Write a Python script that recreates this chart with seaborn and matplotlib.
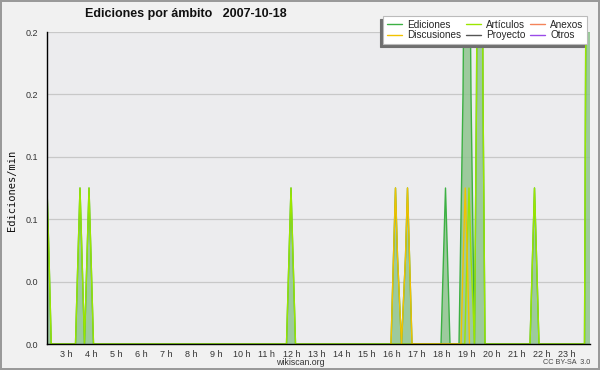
import matplotlib
matplotlib.use("Agg")
import matplotlib.pyplot as plt
from matplotlib.ticker import MultipleLocator, FixedLocator
from matplotlib.lines import Line2D
import seaborn as sns
import pandas as pd

# ---- data (hours of the day, edits per minute) ----
ed_hours = [2.22, 2.30, 2.39,
            3.36, 3.46, 3.54, 3.62, 3.72, 3.82, 3.90, 3.98, 4.08,
            11.80, 11.90, 11.98, 12.06, 12.16,
            15.98, 16.08, 16.16, 16.24, 16.40, 16.56, 16.64, 16.72, 16.82,
            17.98, 18.08, 18.16, 18.24, 18.34,
            18.70, 18.86, 19.02, 19.18, 19.32, 19.40, 19.54, 19.66, 19.74,
            21.54, 21.64, 21.72, 21.80, 21.90,
            23.72, 23.78, 23.86, 23.94]
ed_values = [0.125, 0.07, 0.0,
             0.0, 0.07, 0.125, 0.07, 0.0, 0.07, 0.125, 0.07, 0.0,
             0.0, 0.07, 0.125, 0.07, 0.0,
             0.0, 0.07, 0.125, 0.07, 0.0, 0.07, 0.125, 0.07, 0.0,
             0.0, 0.07, 0.125, 0.07, 0.0,
             0.0, 0.2, 0.6, 0.2, 0.0, 0.2, 0.75, 0.2, 0.0,
             0.0, 0.07, 0.125, 0.07, 0.0,
             0.0, 0.3, 0.8, 0.8]

art_hours = [2.22, 2.30, 2.39,
             3.36, 3.46, 3.54, 3.62, 3.72, 3.82, 3.90, 3.98, 4.08,
             11.80, 11.90, 11.98, 12.06, 12.16,
             18.93, 19.02, 19.10, 19.18, 19.32, 19.40, 19.54, 19.66, 19.74,
             21.54, 21.64, 21.72, 21.80, 21.90,
             23.72, 23.78, 23.86, 23.94]
art_values = [0.125, 0.07, 0.0,
              0.0, 0.07, 0.125, 0.07, 0.0, 0.07, 0.125, 0.07, 0.0,
              0.0, 0.07, 0.125, 0.07, 0.0,
              0.0, 0.07, 0.125, 0.07, 0.0, 0.2, 0.75, 0.2, 0.0,
              0.0, 0.07, 0.125, 0.07, 0.0,
              0.0, 0.3, 0.8, 0.8]

disc_hours = [15.98, 16.08, 16.16, 16.24, 16.40, 16.56, 16.64, 16.72, 16.82,
              18.78, 18.87, 18.95, 19.03, 19.12]
disc_values = [0.0, 0.07, 0.125, 0.07, 0.0, 0.07, 0.125, 0.07, 0.0,
               0.0, 0.07, 0.125, 0.07, 0.0]

zero_hours = [2.22, 23.94]
proy_values = [0.0, 0.0]
anexos_values = [0.0, 0.0]
otros_values = [0.0, 0.0]

hour_ticks = list(range(3, 24))
hour_labels = [f"{h} h" for h in hour_ticks]
y_ticks = [0.0, 0.05, 0.10, 0.15, 0.20, 0.25]
y_labels = ["0.0", "0.0", "0.1", "0.1", "0.2", "0.2"]

# ---- styling ----
sns.set_style("white")
plt.rcParams["font.family"] = ["Liberation Sans", "DejaVu Sans"]

fig = plt.figure(figsize=(6.0, 3.7), dpi=100)
fig.patch.set_facecolor("#f1f1f1")
fig.patch.set_edgecolor("#9a9a9a")
fig.patch.set_linewidth(1.5)
ax = fig.add_axes([47/600, 26/370, 543/600, 312/370])
ax.set_facecolor("#ececee")

c_ed = "#3cb043"
c_art = "#9be600"
c_disc = "#f2c200"
c_proy = "#555555"
c_anex = "#f4845a"
c_otros = "#9a4be8"

df_ed = pd.DataFrame({"h": ed_hours, "v": ed_values})
ax.fill_between(df_ed["h"], 0, df_ed["v"], color="#8fc58f", alpha=0.85,
                linewidth=0, zorder=1)

sns.lineplot(data=df_ed, x="h", y="v", ax=ax, color=c_ed, lw=1.0,
             zorder=2, sort=False)
sns.lineplot(x=zero_hours, y=proy_values, ax=ax, color=c_proy, lw=0.8, zorder=0.5)
sns.lineplot(x=zero_hours, y=anexos_values, ax=ax, color=c_anex, lw=0.8, zorder=0.5)
sns.lineplot(x=zero_hours, y=otros_values, ax=ax, color=c_otros, lw=0.8, zorder=0.5)
sns.lineplot(x=art_hours, y=art_values, ax=ax, color=c_art, lw=1.0,
             zorder=3, sort=False)
sns.lineplot(x=disc_hours, y=disc_values, ax=ax, color=c_disc, lw=1.0,
             zorder=4, sort=False)

ax.set_xlim(2.22, 23.94)
ax.set_ylim(0, 0.25)

ax.xaxis.set_major_locator(FixedLocator(hour_ticks))
ax.set_xticklabels(hour_labels)
ax.xaxis.set_minor_locator(MultipleLocator(1/6))
ax.yaxis.set_major_locator(FixedLocator(y_ticks))
ax.set_yticklabels(y_labels)
ax.yaxis.set_minor_locator(MultipleLocator(0.0125))

ax.tick_params(axis="both", which="both", direction="out", color="black",
               width=1.0, labelsize=6.5, labelcolor="#333333", pad=1.5)
ax.tick_params(axis="x", which="major", length=4, pad=0)
ax.tick_params(axis="x", which="minor", length=4)
ax.tick_params(axis="y", which="major", length=5)
ax.tick_params(axis="y", which="minor", length=4)

ax.grid(axis="y", which="major", color="#c8c8c8", lw=0.9)
ax.grid(axis="x", visible=False)
for s in ["top", "right"]:
    ax.spines[s].set_visible(False)
for s in ["left", "bottom"]:
    ax.spines[s].set_color("black")
    ax.spines[s].set_linewidth(1.0)
    ax.spines[s].set_zorder(5)
ax.set_xlabel("")
ax.set_ylabel("")

# legend
handles = [Line2D([], [], color=c_ed, lw=1), Line2D([], [], color=c_disc, lw=1),
           Line2D([], [], color=c_art, lw=1), Line2D([], [], color=c_proy, lw=1),
           Line2D([], [], color=c_anex, lw=1), Line2D([], [], color=c_otros, lw=1)]
labels = ["Ediciones", "Discusiones", "Artículos", "Proyecto", "Anexos", "Otros"]
leg = fig.legend(handles, labels, loc="upper right",
                 bbox_to_anchor=(592/600, 1 - 11/370), ncol=3,
                 fontsize=7.2, frameon=True, fancybox=False,
                 handlelength=1.5, handletextpad=0.5, columnspacing=0.5,
                 labelspacing=0.05, borderpad=0.35,
                 shadow={"ox": -2.5, "oy": -2.5, "facecolor": "#6f6f6f",
                         "edgecolor": "#6f6f6f", "alpha": 1})
leg.get_frame().set_facecolor("white")
leg.get_frame().set_edgecolor("#bbbbbb")
leg.get_frame().set_linewidth(0.8)
leg.get_frame().set_alpha(1)

# texts
fig.text(85/600, 1 - 14/370, "Ediciones por ámbito   2007-10-18",
         fontsize=9, fontweight="bold", ha="left", va="center", color="#111111")
fig.text(12/600, 1 - 190/370, "Ediciones/min", rotation=90,
         family="DejaVu Sans Mono", fontsize=7.5, ha="center", va="center",
         color="#111111")
fig.text(300/600, 1 - 362.5/370, "wikiscan.org", fontsize=6.3, ha="center",
         va="center", color="#333333")
fig.text(590/600, 1 - 363/370, "CC BY-SA  3.0", fontsize=5.2, ha="right",
         va="center", color="#444444")

fig.savefig("out.png", dpi=100, facecolor=fig.get_facecolor(),
            edgecolor=fig.get_edgecolor())
